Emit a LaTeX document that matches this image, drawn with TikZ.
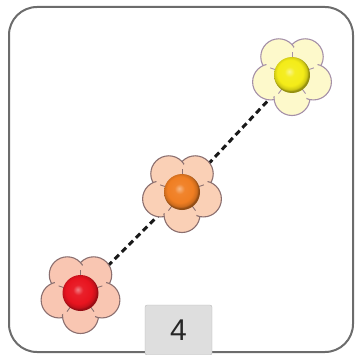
\documentclass[tikz,border=0pt]{standalone}
\usepackage{fontspec}
\setmainfont{Liberation Sans}
\pgfdeclarelayer{background}
\pgfsetlayers{background,main}
\definecolor{ballred}{HTML}{E8141F}
\definecolor{ballorange}{HTML}{F07E22}
\definecolor{ballyellow}{HTML}{F4EC18}
\definecolor{peach}{HTML}{F9C6B2}
\definecolor{peachorange}{HTML}{FAD0B6}
\definecolor{paleyellow}{HTML}{FDF9CB}
\definecolor{petalline}{HTML}{8B6F6F}
\definecolor{petallineY}{HTML}{A590A8}
\definecolor{framegray}{HTML}{6C6C6C}
\definecolor{boxgray}{HTML}{DEDEDE}
\pgfdeclareradialshading{redball}{\pgfpoint{-4bp}{5bp}}{color(0bp)=(ballred!55!white); color(7bp)=(ballred!95!white); color(18bp)=(ballred); color(23bp)=(ballred!85!black); color(25bp)=(ballred!65!black); color(50bp)=(ballred!65!black)}
\pgfdeclareradialshading{orangeball}{\pgfpoint{-4bp}{5bp}}{color(0bp)=(ballorange!55!white); color(7bp)=(ballorange!95!white); color(18bp)=(ballorange); color(23bp)=(ballorange!85!black); color(25bp)=(ballorange!60!black); color(50bp)=(ballorange!60!black)}
\pgfdeclareradialshading{yellowball}{\pgfpoint{-4bp}{5bp}}{color(0bp)=(ballyellow!50!white); color(7bp)=(ballyellow!95!white); color(18bp)=(ballyellow); color(23bp)=(ballyellow!85!black); color(25bp)=(ballyellow!60!black); color(50bp)=(ballyellow!60!black)}
\tikzset{
  pics/flower/.style n args={2}{code={
    \foreach \a in {54,126,198,270,342}
      \filldraw[fill=#1, draw=#2, line width=1.1pt] (\a:22.5pt) circle (18pt);
    \foreach \a in {54,126,198,270,342}
      \fill[#1] (\a:22.5pt) circle (14.5pt);
    \foreach \a in {18,90,162,234,306}
      \draw[#2, line width=0.9pt] (\a:16pt) -- (\a:23pt);
  }},
  ballnode/.style={circle, minimum size=36pt, inner sep=0pt},
  dashedline/.style={line width=3pt, dash pattern=on 6pt off 4pt, black!90},
  framebox/.style={line width=2pt, draw=framegray, rounded corners=28pt},
  labelbox/.style={fill=boxgray, draw=boxgray!80!black, line width=0.3pt, rounded corners=2pt, minimum width=67pt, minimum height=50pt, inner sep=0pt, text=black!85, font=\fontsize{30}{30}\selectfont}
}
\begin{document}
\begin{tikzpicture}[x=1pt,y=1pt]
\useasboundingbox (0,0) rectangle (355,354);
\draw[framebox] (9,2) rectangle (353,347);
\pic at (80.5,61) {flower={peach}{petalline}};
\pic at (182,162) {flower={peachorange}{petalline}};
\pic at (292,279) {flower={paleyellow}{petallineY}};
\node[ballnode, shading=redball] (red) at (80.5,61) {};
\node[ballnode, shading=orangeball] (orange) at (182,162) {};
\node[ballnode, shading=yellowball] (yellow) at (292,279) {};
\begin{pgfonlayer}{background}
\draw[dashedline] (red) -- (orange);
\draw[dashedline] (orange) -- (yellow);
\end{pgfonlayer}
\node[labelbox] (lbl) at (178.5,24) {4};
\end{tikzpicture}
\end{document}
